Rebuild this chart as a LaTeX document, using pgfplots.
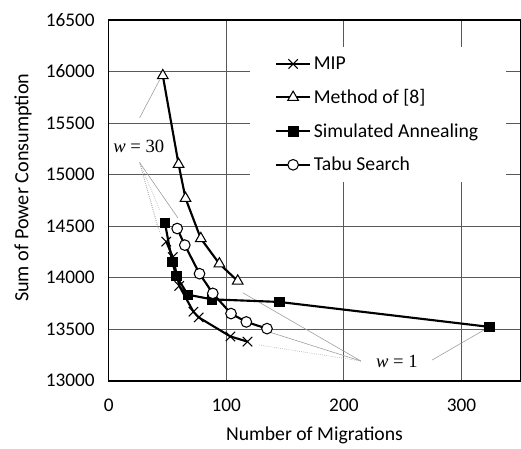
\documentclass[border=0pt]{standalone}
\usepackage{pgfplots}
\pgfplotsset{compat=1.18}
\usepackage{fontspec}
\setmainfont{Carlito}
\newfontfamily\serifw{Liberation Serif}
\begin{document}
\begin{tikzpicture}
\begin{axis}[
  name=main,
  scale only axis,
  width=309.4pt, height=271.3pt,
  xmin=0, xmax=350, ymin=13000, ymax=16500,
  xtick={0,100,200,300}, ytick={13000,13500,...,16500},
  scaled y ticks=false,
  yticklabel={\pgfmathprintnumber[fixed,precision=0,1000 sep={}]{\tick}},
  grid=major,
  major grid style={draw=black!65, line width=0.8pt},
  axis line style={line width=1.1pt},
  major tick length=0pt,
  /pgf/number format/assume math mode=true,
  /pgf/number format/1000 sep={},
  tick label style={font=\fontsize{14.5}{16}\selectfont},
  yticklabel style={xshift=-7pt},
  xticklabel style={yshift=-10pt},
  xlabel={Number of Migrations},
  ylabel={Sum of Power Consumption},
  xlabel style={font=\fontsize{14.8}{16}\selectfont, at={(axis description cs:0.5,-0.152)}, anchor=center},
  ylabel style={font=\fontsize{15.2}{16}\selectfont, at={(axis description cs:-0.2085,0.535)}, anchor=center},
  legend style={at={(axis description cs:0.342,0.925)}, anchor=north west,
    draw=none, fill=white, inner xsep=19pt, inner ysep=5pt, row sep=9.5pt,
    font=\fontsize{14.8}{16}\selectfont, cells={anchor=west}},
  legend image code/.code={\draw[mark repeat=2,mark phase=2,#1] plot coordinates {(0cm,0cm) (0.45cm,0cm) (0.9cm,0cm)};},
  every axis plot/.append style={line width=1.6pt, black},
]
% annotation lines
\draw[gray!75, line width=0.45pt] (axis cs:26.3,15551) -- (axis cs:43.3,15919);
\draw[gray!75, line width=0.45pt, densely dotted] (axis cs:26.3,15116) -- (axis cs:43.3,14661);
\draw[gray!75, line width=0.45pt] (axis cs:26.3,15116) -- (axis cs:58.8,14580);
\draw[gray!75, line width=0.45pt, densely dotted] (axis cs:26.3,15116) -- (axis cs:42,14470);
\draw[gray!75, line width=0.45pt, densely dotted] (axis cs:26.3,15116) -- (axis cs:44,14419);
\draw[gray!75, line width=0.45pt] (axis cs:214.4,13192) -- (axis cs:114,13854);
\draw[gray!75, line width=0.45pt] (axis cs:214.4,13192) -- (axis cs:136.6,13473);
\draw[gray!75, line width=0.45pt, densely dotted] (axis cs:214.4,13192) -- (axis cs:128.1,13347);
\draw[gray!75, line width=0.45pt] (axis cs:275.1,13202) -- (axis cs:319,13492);

\addplot[mark=x, mark size=5pt, mark options={line width=0.8pt}] coordinates {
(48.9,14350) (54.5,14200) (60,13920) (72,13670) (76.5,13615) (103.5,13430) (118,13380)};
\addlegendentry{MIP}
\addplot[mark=triangle*, mark size=4.6pt, mark options={fill=white, line width=0.8pt}] coordinates {
(46,15960) (59.4,15100) (65.3,14770) (78.3,14380) (94.1,14135) (109.7,13968)};
\addlegendentry{Method of [8]}
\addplot[mark=square*, mark size=3.6pt, mark options={fill=black, line width=0.6pt}] coordinates {
(47.8,14532) (54,14152) (57.4,14016) (67.3,13835) (87.9,13790) (145,13765) (323.7,13523)};
\addlegendentry{Simulated Annealing}
\addplot[mark=*, mark size=4pt, mark options={fill=white, line width=0.8pt}] coordinates {
(58.2,14477) (64.7,14316) (77.2,14039) (88.5,13848) (104,13652) (117,13571) (134.6,13506)};
\addlegendentry{Tabu Search}

\node[font=\serifw\fontsize{14}{16}\selectfont, fill=white, inner sep=1pt] at (axis cs:25.5,15271) {\textit{w} = 30};
\node[font=\serifw\fontsize{14}{16}\selectfont, fill=white, inner sep=1pt] at (axis cs:245,13190) {\textit{w} = 1};
\end{axis}
\path (main.south west) ++(-81.75pt,-50.5pt) coordinate (bbA);
\path (main.north west) ++(-81.75pt,15pt) coordinate (bbB);
\path (bbA) (bbB);
\end{tikzpicture}
\end{document}
